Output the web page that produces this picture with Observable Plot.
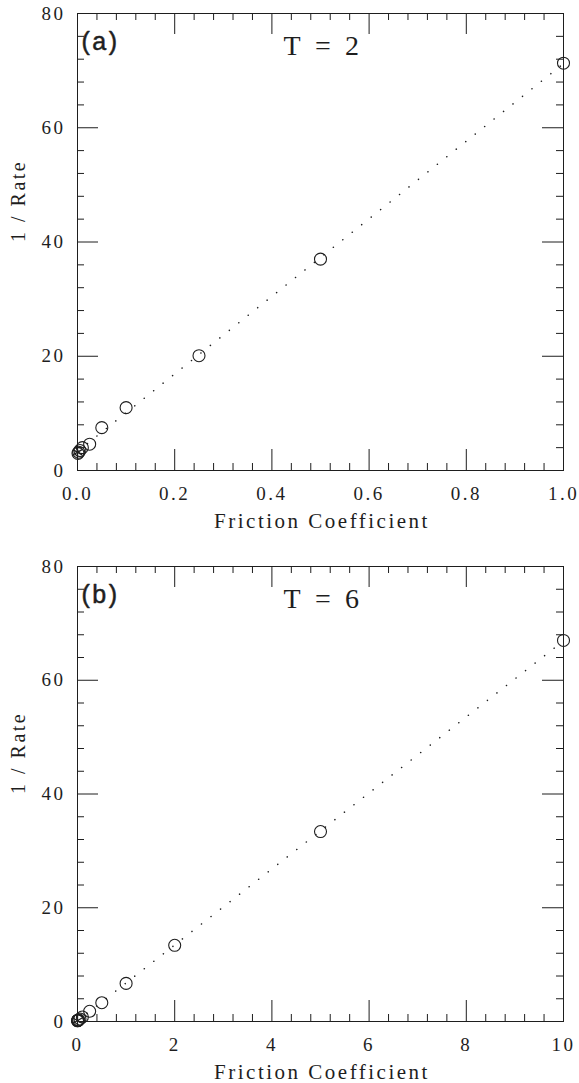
<!DOCTYPE html>
<html>
<head>
<meta charset="utf-8">
<script src="https://cdn.jsdelivr.net/npm/d3@7"></script>
<script src="https://cdn.jsdelivr.net/npm/@observablehq/plot@0.6"></script>
<style>
  html, body { margin: 0; padding: 0; background: #fff; }
  svg { display: block; }
</style>
</head>
<body>
<div id="chart"></div>
<script>
// Panel (a): T = 2, inverse rate against friction coefficient
const frictionA = [0.001, 0.0025, 0.005, 0.01, 0.025, 0.05, 0.1, 0.25, 0.5, 1.0];
const invRateA  = [3.0, 3.2, 3.5, 4.0, 4.6, 7.5, 11.0, 20.1, 37.0, 71.3];
const zeroFrictionA = [{x: 0, y: 3.2}];

// Panel (b): T = 6
const frictionB = [0.001, 0.0025, 0.005, 0.01, 0.025, 0.05, 0.1, 0.25, 0.5, 1, 2, 5, 10];
const invRateB  = [0.12, 0.15, 0.18, 0.22, 0.3, 0.45, 0.8, 1.8, 3.3, 6.7, 13.4, 33.4, 67.0];
const zeroFrictionB = [{x: 0, y: 0.15}];

// Tick values
const xMajorA = [0, 0.2, 0.4, 0.6, 0.8, 1.0];
const xMajorB = [0, 2, 4, 6, 8, 10];
const yMajor  = [0, 20, 40, 60, 80];
const xLabelsA = ["0.0", "0.2", "0.4", "0.6", "0.8", "1.0"];
const xLabelsB = ["0", "2", "4", "6", "8", "10"];

const serifFont = "'Liberation Serif', 'DejaVu Serif', serif";
const sansFont = "'Liberation Sans', Arial, sans-serif";
const ink = "#1e1e1e";

function minorTicks(majors, step) {
  const lo = majors[0], hi = majors[majors.length - 1];
  return d3.range(lo, hi + step / 2, step)
    .map(v => +v.toFixed(6))
    .filter(v => !majors.some(m => Math.abs(m - v) < step / 10));
}

function panel({xs, ys, zero, xMajor, xLabels, xStep, tag, temp, height, marginTop, marginBottom}) {
  const width = 579, marginLeft = 77, marginRight = 16;
  const innerW = width - marginLeft - marginRight;
  const innerH = height - marginTop - marginBottom;
  const MAJ = 21, MIN = 7;
  const pts = xs.map((x, i) => ({x, y: ys[i]}));
  const xMinor = minorTicks(xMajor, xStep);
  const yMinor = minorTicks(yMajor, 4);
  const tickStyle = {stroke: ink, strokeWidth: 1};
  const labelOf = new Map(xMajor.map((v, i) => [v, xLabels[i]]));
  return Plot.plot({
    width, height, marginLeft, marginRight, marginTop, marginBottom,
    style: {fontFamily: serifFont, fontSize: "19px", letterSpacing: "2.5px", color: ink, background: "#fff"},
    x: {domain: [xMajor[0], xMajor[xMajor.length - 1]]},
    y: {domain: [0, 80]},
    marks: [
      Plot.frame({stroke: ink, strokeWidth: 1}),
      // inward ticks on all four sides
      Plot.tickX(xMajor, {x: d => d, insetTop: innerH - MAJ, ...tickStyle}),
      Plot.tickX(xMajor, {x: d => d, insetBottom: innerH - MAJ, ...tickStyle}),
      Plot.tickX(xMinor, {x: d => d, insetTop: innerH - MIN, ...tickStyle}),
      Plot.tickX(xMinor, {x: d => d, insetBottom: innerH - MIN, ...tickStyle}),
      Plot.tickY(yMajor, {y: d => d, insetRight: innerW - MAJ, ...tickStyle}),
      Plot.tickY(yMajor, {y: d => d, insetLeft: innerW - MAJ, ...tickStyle}),
      Plot.tickY(yMinor, {y: d => d, insetRight: innerW - MIN, ...tickStyle}),
      Plot.tickY(yMinor, {y: d => d, insetLeft: innerW - MIN, ...tickStyle}),
      Plot.axisX({ticks: xMajor, tickSize: 0, tickPadding: 16, tickFormat: d => labelOf.get(d), label: null}),
      Plot.axisY({ticks: yMajor, tickSize: 0, tickPadding: 12, label: null}),
      // axis titles
      Plot.text(["Friction Coefficient"], {frameAnchor: "bottom", dy: 51, dx: 1.5, lineAnchor: "middle", fontSize: 21, fill: ink}),
      Plot.text(["1 / Rate"], {frameAnchor: "left", dx: -59, rotate: -90, lineAnchor: "middle", fontSize: 20, fill: ink}),
      // linear fit drawn as a dotted line
      Plot.linearRegressionY(pts, {x: "x", y: "y", ci: 0, stroke: ink, strokeWidth: 1.5,
        strokeDasharray: "0.1,12", strokeLinecap: "round"}),
      Plot.dot(pts, {x: "x", y: "y", r: 6, stroke: ink, strokeWidth: 1.1, fill: "none"}),
      Plot.dot(zero, {x: "x", y: "y", r: 5, symbol: "asterisk", stroke: ink, strokeWidth: 1.3}),
      // panel tag and temperature
      Plot.text([tag], {frameAnchor: "top-left", dx: 4, dy: 28, lineAnchor: "middle", textAnchor: "start",
        fontFamily: sansFont, fontSize: 25, fill: ink, stroke: ink, strokeWidth: 0.5}),
      Plot.text([temp], {frameAnchor: "top", dy: 33, dx: 2, lineAnchor: "middle", fontFamily: serifFont, fontSize: 28, fill: ink})
    ]
  });
}

const chart = document.getElementById("chart");
chart.append(panel({
  xs: frictionA, ys: invRateA, zero: zeroFrictionA, xMajor: xMajorA, xLabels: xLabelsA, xStep: 0.04,
  tag: "(a)", temp: "T\u2004=\u20042", height: 540, marginTop: 13, marginBottom: 70
}));
chart.append(panel({
  xs: frictionB, ys: invRateB, zero: zeroFrictionB, xMajor: xMajorB, xLabels: xLabelsB, xStep: 0.4,
  tag: "(b)", temp: "T\u2004=\u20046", height: 543, marginTop: 26, marginBottom: 62
}));
</script>
</body>
</html>
